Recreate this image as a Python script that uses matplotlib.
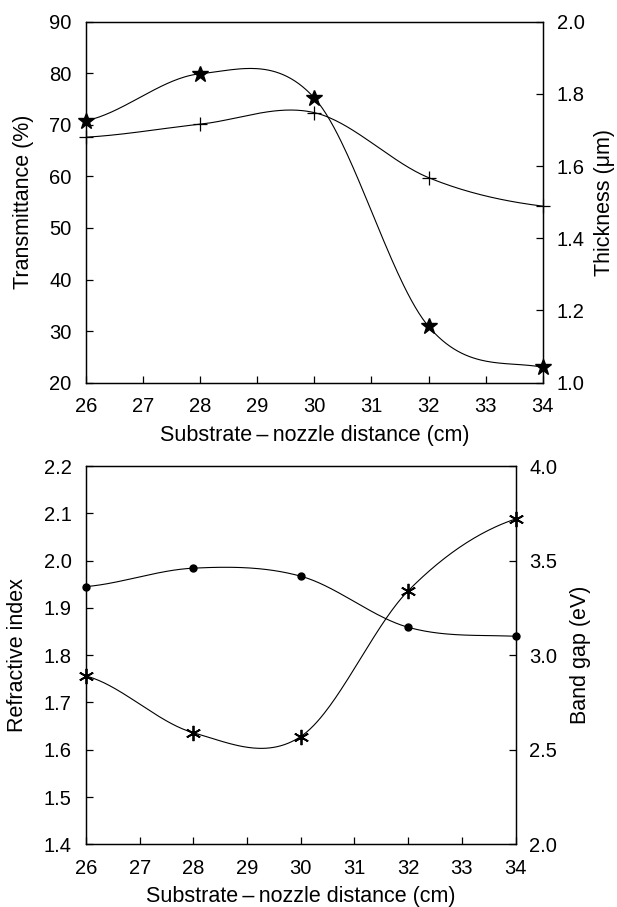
import numpy as np
import matplotlib
matplotlib.use("Agg")
import matplotlib.pyplot as plt

plt.rcParams['font.family'] = ['Liberation Sans', 'DejaVu Sans']

distance = [26, 28, 30, 32, 34]

transmittance = [70.8, 79.9, 75.2, 30.9, 23.0]
thickness = [1.68, 1.716, 1.748, 1.568, 1.489]

refractive_index = [1.945, 1.984, 1.967, 1.859, 1.840]
band_gap = [2.89, 2.59, 2.57, 3.34, 3.72]

xlabel = "Substrate\u2009\u2013\u2009nozzle distance (cm)"
tfs = 14.5   # tick labels
lfs = 15.5   # axis labels


def smooth(x, y, n=60):
    # piecewise cubic hermite curve through the points (catmull-rom style)
    x = np.asarray(x, float)
    y = np.asarray(y, float)
    m = np.zeros_like(y)
    m[1:-1] = (y[2:] - y[:-2]) / (x[2:] - x[:-2])
    m[0] = 0.5 * (y[1] - y[0]) / (x[1] - x[0])
    m[-1] = 0.5 * (y[-1] - y[-2]) / (x[-1] - x[-2])
    xs, ys = [], []
    for i in range(len(x) - 1):
        h = x[i + 1] - x[i]
        t = np.linspace(0, 1, n)
        h00 = 2*t**3 - 3*t**2 + 1
        h10 = t**3 - 2*t**2 + t
        h01 = -2*t**3 + 3*t**2
        h11 = t**3 - t**2
        xs.append(x[i] + t*h)
        ys.append(h00*y[i] + h10*h*m[i] + h01*y[i+1] + h11*h*m[i+1])
    return np.concatenate(xs), np.concatenate(ys)


def style(ax, pad=10):
    ax.tick_params(direction='in', length=5, width=0.9, labelsize=tfs, pad=pad)
    for s in ax.spines.values():
        s.set_linewidth(0.9)


fig = plt.figure(figsize=(6.17, 9.07), dpi=100)

# top panel
ax1 = fig.add_axes([0.1394, 0.5781, 0.7402, 0.398])
ax1b = ax1.twinx()
xs, ys = smooth(distance, transmittance)
ax1.plot(xs, ys, color='black', lw=0.8)
ax1.plot(distance, transmittance, ls='none', marker='*', ms=12, color='black', clip_on=False)
xs, ys = smooth(distance, thickness)
ax1b.plot(xs, ys, color='black', lw=0.8)
ax1b.plot(distance, thickness, ls='none', marker='+', ms=10, mew=0.9, color='black', clip_on=False)
ax1.set_xlim(26, 34)
ax1.set_ylim(20, 90)
ax1b.set_ylim(1.0, 2.0)
ax1.set_xticks(range(26, 35))
ax1.set_yticks(range(20, 91, 10))
ax1b.set_yticks(np.arange(1.0, 2.01, 0.2))
ax1b.set_yticklabels([f"{v:.1f}" for v in np.arange(1.0, 2.01, 0.2)])
ax1.set_xlabel(xlabel, fontsize=lfs, labelpad=6)
ax1.set_ylabel("Transmittance (%)", fontsize=lfs, labelpad=11)
ax1b.set_ylabel("Thickness (\u03bcm)", fontsize=lfs, labelpad=7)
style(ax1, pad=10.5)
style(ax1b, pad=10)

# bottom panel
ax2 = fig.add_axes([0.1394, 0.0691, 0.6961, 0.4171])
ax2b = ax2.twinx()
xs, ys = smooth(distance, refractive_index)
ax2.plot(xs, ys, color='black', lw=0.8)
ax2.plot(distance, refractive_index, ls='none', marker='o', ms=5, color='black', clip_on=False)
xs, ys = smooth(distance, band_gap)
ax2b.plot(xs, ys, color='black', lw=0.8)
ax2b.plot(distance, band_gap, ls='none', marker=(6, 2, 0), ms=11, mew=1.3, color='black', clip_on=False)
ax2.set_xlim(26, 34)
ax2.set_ylim(1.4, 2.2)
ax2b.set_ylim(2.0, 4.0)
ax2.set_xticks(range(26, 35))
ax2.set_yticks(np.arange(1.4, 2.21, 0.1))
ax2.set_yticklabels([f"{v:.1f}" for v in np.arange(1.4, 2.21, 0.1)])
ax2b.set_yticks(np.arange(2.0, 4.01, 0.5))
ax2b.set_yticklabels([f"{v:.1f}" for v in np.arange(2.0, 4.01, 0.5)])
ax2.set_xlabel(xlabel, fontsize=lfs, labelpad=6)
ax2.set_ylabel("Refractive index", fontsize=lfs, labelpad=11)
ax2b.set_ylabel("Band gap (eV)", fontsize=lfs, labelpad=9)
style(ax2, pad=10.5)
style(ax2b, pad=10)

fig.savefig("out.png", dpi=100)
